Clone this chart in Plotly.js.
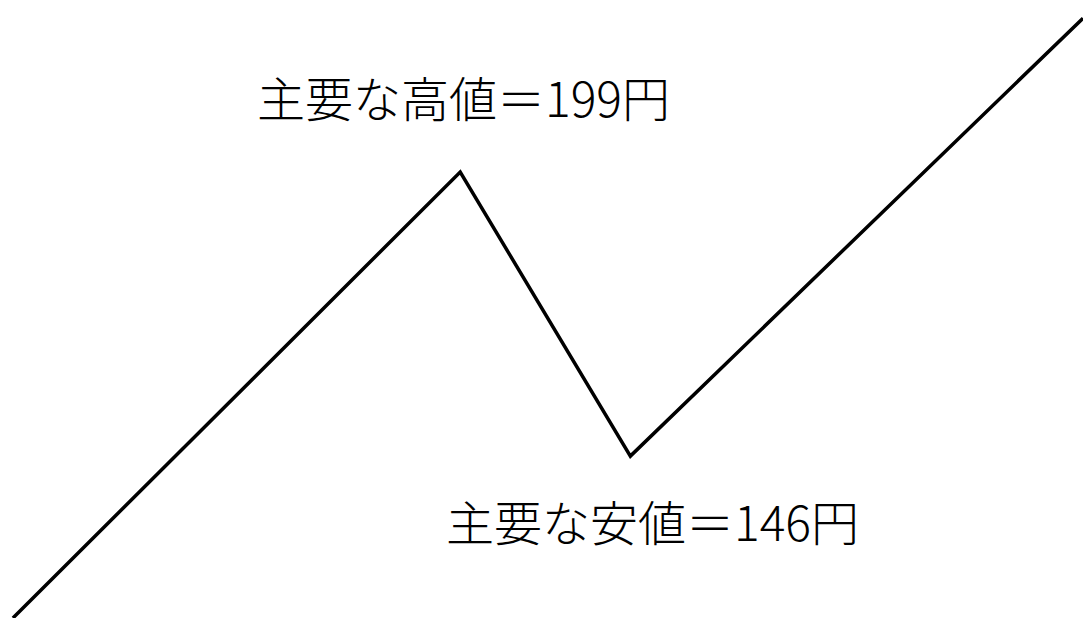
<!DOCTYPE html>
<html>
<head>
<meta charset="utf-8">
<script src="https://cdn.plot.ly/plotly-3.0.1.min.js"></script>
<style>html,body{margin:0;padding:0;background:#fff;}#chart{width:1083px;height:618px;}</style>
</head>
<body>
<div id="chart"></div>
<script>
const timeIdx = [0, 41.8, 57.7, 100];
const prices = [115.8, 199, 146, 227.7];
const highLabel = "主要な高値＝199円";
const lowLabel = "主要な安値＝146円";

const trace = {
  x: timeIdx,
  y: prices,
  mode: "lines",
  line: {color: "#000", width: 3.5},
  hoverinfo: "skip"
};

const layout = {
  width: 1083,
  height: 618,
  margin: {l: 0, r: 0, t: 0, b: 0},
  paper_bgcolor: "#fff",
  plot_bgcolor: "#fff",
  showlegend: false,
  xaxis: {range: [-1.21, 100], visible: false, fixedrange: true},
  yaxis: {range: [115.8, 231.1], visible: false, fixedrange: true},
  annotations: [
    {x: timeIdx[1], y: prices[1], xref: "x", yref: "y", text: highLabel, showarrow: false,
     xanchor: "center", yanchor: "middle", xshift: 3, yshift: 76,
     font: {family: "Noto Sans CJK JP", size: 48, color: "#000", weight: 300}},
    {x: timeIdx[2], y: prices[2], xref: "x", yref: "y", text: lowLabel, showarrow: false,
     xanchor: "center", yanchor: "middle", xshift: 22, yshift: -64,
     font: {family: "Noto Sans CJK JP", size: 48, color: "#000", weight: 300}}
  ]
};

Plotly.newPlot("chart", [trace], layout, {displayModeBar: false, staticPlot: true});
</script>
</body>
</html>
